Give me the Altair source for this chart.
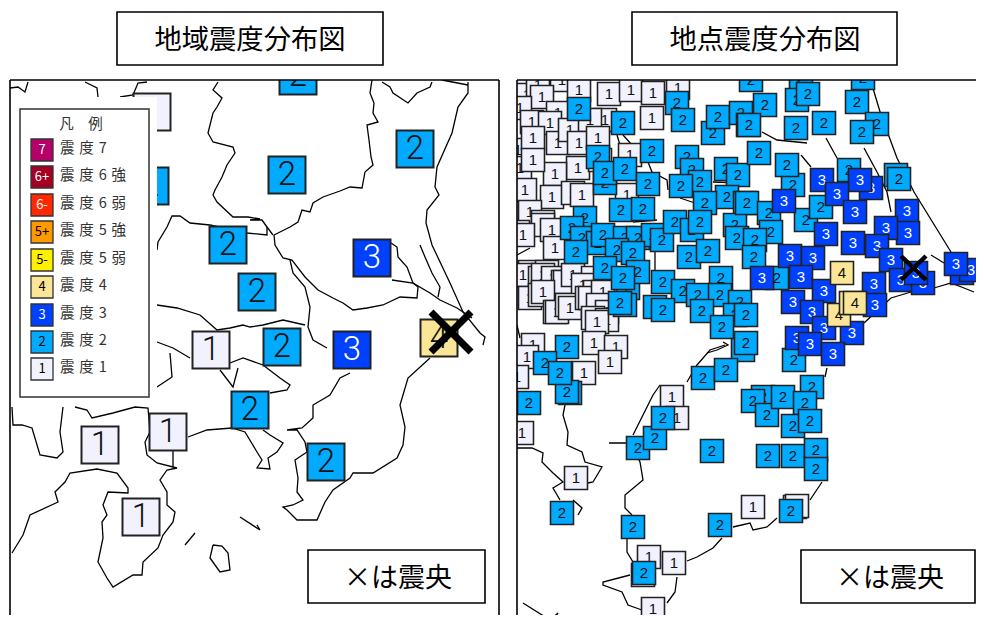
import altair as alt
import pandas as pd

# 地図の座標は画像から読み取った値 (x, y)
LEFT_LINES = [
    [(372,80),(370,93),(374,103),(373,113),(378,122),(367,125),(369,140),(371,157),(373,165),(365,172),(362,188),(350,187),(340,191),(323,197),(313,203),(310,212),(302,210),(298,222),(290,227),(274,235)],
    [(218,82),(213,90),(222,98),(217,107),(213,113),(208,133),(213,142),(233,147),(235,153),(227,165),(222,177),(215,190),(213,195),(217,202),(233,217),(248,217),(260,219),(250,220),(262,220),(267,227),(273,235)],
    [(157,250),(158,242),(167,227),(172,216),(180,216),(190,223),(210,225),(247,233),(267,235),(267,227)],
    [(10,88),(18,87),(25,92),(28,82)],
    [(85,82),(97,88),(98,97)],
    [(147,82),(138,83),(133,95),(120,97)],
    [(157,305),(177,308),(200,315),(217,330),(230,328),(243,325),(250,327),(263,325),(283,320),(305,325)],
    [(157,342),(173,348),(190,358)],
    [(170,353),(172,377),(157,387)],
    [(230,363),(243,358),(263,365),(280,378),(290,385),(287,390),(270,393)],
    [(220,370),(233,387),(238,368)],
    [(188,437),(207,430),(232,428),(245,432),(257,452),(262,460),(257,468),(270,469),(268,458),(277,452),(283,443),(270,435),(263,430)],
    [(350,373),(340,378),(330,395),(313,405),(313,418),(302,428),(287,430),(297,430),(305,442),(307,452),(295,460),(298,478),(297,492),(303,500),(293,505),(283,507),(287,510),(297,520),(317,520),(325,502),(333,490),(350,478),(353,473),(373,473),(397,458),(403,445),(405,427),(400,405),(408,378),(430,358)],
    [(468,82),(468,93),(458,107),(452,133),(437,167),(435,187),(439,195),(427,210),(426,223),(432,245),(450,283),(463,312),(480,333),(485,337),(483,345)],
    [(382,82),(390,87),(393,93),(408,103),(417,93),(430,87),(432,82)],
    [(442,80),(468,85)],
    [(391,243),(397,247),(398,257),(407,267),(413,283),(430,293),(440,300),(457,308),(472,318)],
    [(392,280),(413,283),(418,287),(417,298),(400,297),(383,305),(367,308),(353,310),(343,303),(333,298),(318,290),(305,277),(292,260),(283,258),(275,245),(274,235)],
    [(290,260),(293,273),(305,287),(310,307),(308,327),(313,340),(327,348)],
    [(420,245),(425,257),(432,273),(440,287),(438,297)],
    [(12,407),(13,425),(22,425),(32,428),(40,455),(57,458),(63,452),(60,432),(63,407)],
    [(75,407),(87,410),(92,418),(113,413),(135,407),(148,408),(150,432),(145,442),(147,455),(157,463),(173,467)],
    [(173,450),(173,467),(177,468),(167,470),(160,480),(167,492),(167,505),(175,512),(173,522),(163,535),(158,548),(143,562),(142,575),(133,575),(113,587),(107,578),(98,562),(103,538),(102,522),(107,515),(103,505),(108,492),(128,493),(128,488),(117,473),(97,469),(70,473),(65,482),(55,492),(58,502),(30,515),(23,535),(12,553)],
    [(240,517),(260,530),(257,525)],
    [(185,545),(195,533)],
    [(213,545),(210,558),(220,572),(230,570),(228,553),(222,546),(213,545)],
]
RIGHT_LINES = [
    [(517,448),(532,448),(543,453),(542,462),(553,473),(563,482),(553,488),(560,500)],
    [(565,405),(563,415),(568,432),(567,445),(582,452),(585,462),(602,467),(593,482),(588,483)],
    [(573,500),(582,508),(578,515)],
    [(609,443),(630,443),(640,462),(643,480),(625,495),(625,508),(632,515)],
    [(627,538),(627,552),(633,562)],
    [(630,575),(603,582),(603,585),(622,592),(628,605),(642,610)],
    [(667,603),(675,592),(677,577)],
    [(687,561),(697,557),(713,548),(722,538)],
    [(733,527),(750,523),(753,530),(767,527),(777,518)],
    [(810,500),(822,482)],
    [(827,368),(825,377)],
    [(633,435),(653,395),(660,385)],
    [(687,382),(697,365),(710,350),(725,345)],
    [(523,603),(550,620),(558,613),(552,622)],
    [(872,85),(881,115),(897,158),(914,192),(951,252)],
    [(931,255),(944,263)],
    [(934,288),(951,283),(964,288),(974,292)],
    [(911,292),(891,298),(864,323)],
    [(762,132),(777,140),(807,143)],
    [(826,138),(837,158)],
    [(864,148),(877,172),(887,192),(891,212)],
    [(801,155),(811,167)],
    [(617,135),(620,145)],
    [(623,135),(632,145)],
    [(648,162),(652,172),(667,180),(668,190)],
    [(680,198),(695,203)],
    [(655,252),(655,275)],
    [(723,342),(728,345),(717,350),(707,353)],
    [(517,325),(520,338)],
    [(517,255),(530,248)],
    [(713,182),(743,183)],
    [(633,222),(657,220)],
]

# 地域震度 (x, y, 震度)
LEFT_STATIONS = [
    (152,112,"1"),(211,350,"1"),(168,432,"1"),(100,445,"1"),(141,517,"1"),
    (150,186,"2"),(298,76,"2"),(287,175,"2"),(415,149,"2"),(228,245,"2"),(257,292,"2"),
    (282,347,"2"),(250,410,"2"),(326,462,"2"),
    (372,258,"3"),(352,350,"3"),
    (439,338,"4"),
]

# 地点震度 (x, y, 震度)
RIGHT_ONES = [
    (520,90),(527,95),(538,85),(562,80),(579,90),(609,94),(631,90),(653,93),(678,88),(542,97),(558,113),(605,120),
    (652,118),(520,108),(532,122),(550,123),(518,150),(533,138),(558,143),(570,130),(590,120),(579,143),(598,138),(630,155),(578,168),
    (555,174),(520,168),(533,160),(525,190),(600,160),(552,197),(573,193),(582,195),(627,195),(530,212),(518,232),(543,222),(543,225),(552,230),
    (523,235),(555,248),(520,275),(530,272),(523,275),(540,278),(547,272),(543,275),(553,278),(563,282),(565,282),(573,275),(585,285),(593,278),(583,285),
    (530,298),(540,295),(543,292),(555,312),(557,312),(567,305),(570,308),(587,298),(595,292),(590,298),(607,288),(603,292),(598,305),(607,312),(593,318),(607,320),(597,322),
    (533,345),(594,343),(616,347),(527,357),(517,377),
    (584,373),(610,362),(522,433),(672,397),(677,418),(576,478),(649,557),(674,563),(643,575),(653,609),
    (753,507),(795,507),(797,506),
]
RIGHT_TWOS = [
    (751,80),(801,78),(863,78),(579,109),(677,103),(623,123),(683,120),(713,133),(718,117),(741,113),
    (748,125),(652,151),(598,157),(605,183),(605,173),(625,169),(687,157),(692,170),(700,182),(648,184),
    (681,186),(726,169),(738,175),(727,197),(705,203),(745,203),(621,210),(643,209),(585,218),(572,228),
    (582,238),(598,243),(603,235),(625,238),(638,238),(653,235),(662,240),(675,222),(692,230),(700,222),
    (576,252),(617,250),(633,253),(735,225),(737,238),(689,257),(708,251),(605,268),(628,288),(638,272),
    (623,278),(663,282),(683,291),(721,278),(698,295),(720,295),(625,305),(620,303),(655,307),(663,310),
    (702,311),(740,302),(735,315),(722,327),(743,350),(567,347),(765,105),(797,100),(808,94),(749,125),
    (796,128),(824,123),(857,102),(877,124),(862,132),(759,153),(793,185),(787,165),(849,170),(896,175),
    (899,179),(747,203),(769,213),(806,220),(821,207),(771,232),(755,240),(754,257),(777,278),(746,315),
    (746,343),(794,360),(545,363),(570,393),(567,392),(560,373),(529,403),(562,513),(633,527),(638,448),
    (655,438),(663,418),(703,378),(726,370),(712,451),(720,525),(644,573),(791,511),(763,397),(753,401),
    (767,415),(783,397),(812,387),(805,403),(793,426),(810,421),(768,456),(793,456),(816,450),(816,469),
]
RIGHT_THREES = [
    (822,180),(784,201),(871,188),(860,180),(837,194),(855,212),(907,211),(908,233),(886,228),(826,234),
    (853,243),(877,246),(790,256),(813,258),(891,260),(762,278),(801,277),(962,273),(971,270),(956,264),
    (901,280),(923,283),(916,273),(874,284),(824,291),(793,302),(812,312),(875,305),(824,328),(852,333),
    (797,338),(810,344),(833,354),
]
RIGHT_FOURS = [(842,273),(839,315),(851,303),(855,303)]

INTENSITY_COLORS = {"1": "#F2F2FF", "2": "#00AAFF", "3": "#0041FF", "4": "#FAE696"}
DIGIT_COLORS = {"1": "#111111", "2": "#111111", "3": "#FFFFFF", "4": "#111111"}

LEGEND_CODES = ["7", "6+", "6-", "5+", "5-", "4", "3", "2", "1"]
LEGEND_LABELS = ["震\u2004度\u20047", "震\u2004度\u20046\u2004強", "震\u2004度\u20046\u2004弱", "震\u2004度\u20045\u2004強", "震\u2004度\u20045\u2004弱", "震\u2004度\u20044", "震\u2004度\u20043", "震\u2004度\u20042", "震\u2004度\u20041"]
LEGEND_FILLS = ["#B40068", "#A50021", "#FF2800", "#FF9900", "#FFF000", "#FAE696", "#0041FF", "#00AAFF", "#F2F2FF"]
LEGEND_TEXT = ["white", "white", "white", "black", "black", "black", "white", "black", "black"]
LEGEND_X = 42
LEGEND_Y = [150, 177, 205, 232, 260, 287, 315, 342, 369]

JP = "Noto Sans CJK JP"
XMAX = 976
YMAX = 615
# ページの余白 8px の分だけ座標をずらす
X = alt.X("x:Q", scale=alt.Scale(domain=[8, XMAX]), axis=None)
Y = alt.Y("y:Q", scale=alt.Scale(domain=[8, YMAX], reverse=True), axis=None)
X2 = alt.X2("x2:Q")
Y2 = alt.Y2("y2:Q")

layers = []


def lines(polylines):
    rows = []
    for i, line in enumerate(polylines):
        for j, (x, y) in enumerate(line):
            rows.append({"x": x, "y": y, "line": i, "n": j})
    return alt.Chart(pd.DataFrame(rows)).mark_line(color="black", strokeWidth=1.3, interpolate="linear").encode(
        x=X, y=Y, detail="line:N", order="n:Q"
    )


def station(x, y, code, size, stroke_w, font, font_size, weight):
    df = pd.DataFrame({"x": [x], "y": [y], "t": [code]})
    base = alt.Chart(df)
    sq = base.mark_square(size=size, opacity=1, fill=INTENSITY_COLORS[code], stroke="#222222", strokeWidth=stroke_w).encode(x=X, y=Y)
    txt = base.mark_text(font=font, fontSize=font_size, fontWeight=weight, color=DIGIT_COLORS[code], baseline="middle", align="center").encode(x=X, y=Y, text="t:N")
    return [sq, txt]


def box(x, x2, y, y2, fill="white", stroke=None, sw=0):
    df = pd.DataFrame({"x": [x], "x2": [x2], "y": [y], "y2": [y2]})
    kw = {"stroke": stroke, "strokeWidth": sw} if stroke else {"strokeWidth": 0}
    return alt.Chart(df).mark_rect(fill=fill, **kw).encode(x=X, x2=X2, y=Y, y2=Y2)


def seg(x, x2, y, y2, w, color="black"):
    df = pd.DataFrame({"x": [x], "x2": [x2], "y": [y], "y2": [y2]})
    return alt.Chart(df).mark_rule(color=color, strokeWidth=w).encode(x=X, x2=X2, y=Y, y2=Y2)


def label(x, y, s, size, color="black", align="center"):
    df = pd.DataFrame({"x": [x], "y": [y], "t": [s]})
    return alt.Chart(df).mark_text(font=JP, fontSize=size, color=color, align=align, baseline="middle").encode(x=X, y=Y, text="t:N")


# 地図線
layers.append(lines(LEFT_LINES))
layers.append(lines(RIGHT_LINES))

# 観測点
for x, y, c in LEFT_STATIONS:
    layers += station(x, y, c, 1369, 2, "Roboto", 33, 300)
for group, code in [(RIGHT_ONES, "1"), (RIGHT_TWOS, "2"), (RIGHT_THREES, "3"), (RIGHT_FOURS, "4")]:
    for x, y in group:
        layers += station(x, y, code, 529, 1.6, "Liberation Sans", 15, 400)

# 枠の外を消す
layers.append(box(8, XMAX, 8, 80))
layers.append(box(8, 10, 8, YMAX))
layers.append(box(499, 517, 8, YMAX))

# 凡例
layers.append(box(10, 157, 97, 405))
layers.append(box(20, 149, 109, 397, stroke="#333333", sw=1.5))
layers.append(label(81, 125, "凡　例", 14.5, "#333333"))
for i, code in enumerate(LEGEND_CODES):
    ly = LEGEND_Y[i]
    layers.append(box(LEGEND_X - 11, LEGEND_X + 11, ly - 11, ly + 11, fill=LEGEND_FILLS[i], stroke="#333333", sw=1.3))
    layers.append(label(LEGEND_X, ly, code, 13, LEGEND_TEXT[i]))
    layers.append(label(60, ly - 1, LEGEND_LABELS[i], 14.5, "#333333", "left"))

# 震央
layers.append(seg(431, 471, 312, 352, 7))
layers.append(seg(471, 431, 312, 352, 7))
layers.append(seg(901, 926, 256, 280, 4.5))
layers.append(seg(926, 901, 256, 280, 4.5))

# 枠
layers.append(seg(10, 499, 80, 80, 1.6))
layers.append(seg(10, 10, 80, YMAX, 1.6))
layers.append(seg(499, 499, 80, YMAX, 1.6))
layers.append(seg(517, XMAX, 80, 80, 1.6))
layers.append(seg(517, 517, 80, YMAX, 1.6))

# タイトルと注記
layers.append(box(117, 383, 12, 65, stroke="black", sw=1.6))
layers.append(label(250, 40.5, "地域震度分布図", 27.3))
layers.append(box(632, 897, 12, 65, stroke="black", sw=1.6))
layers.append(label(765, 40.5, "地点震度分布図", 27.3))
layers.append(box(308, 485, 550, 603, stroke="black", sw=1.6))
layers.append(label(398, 578.5, "×は震央", 27))
layers.append(box(801, 975, 550, 603, stroke="black", sw=1.6))
layers.append(label(890, 578.5, "×は震央", 27))

chart = alt.layer(*layers).properties(
    width=968, height=607, padding=0, background="white",
    autosize=alt.AutoSizeParams(type="none"),
).configure_view(stroke=None)

chart.save("out.html", embed_options={"renderer": "svg", "actions": False})
